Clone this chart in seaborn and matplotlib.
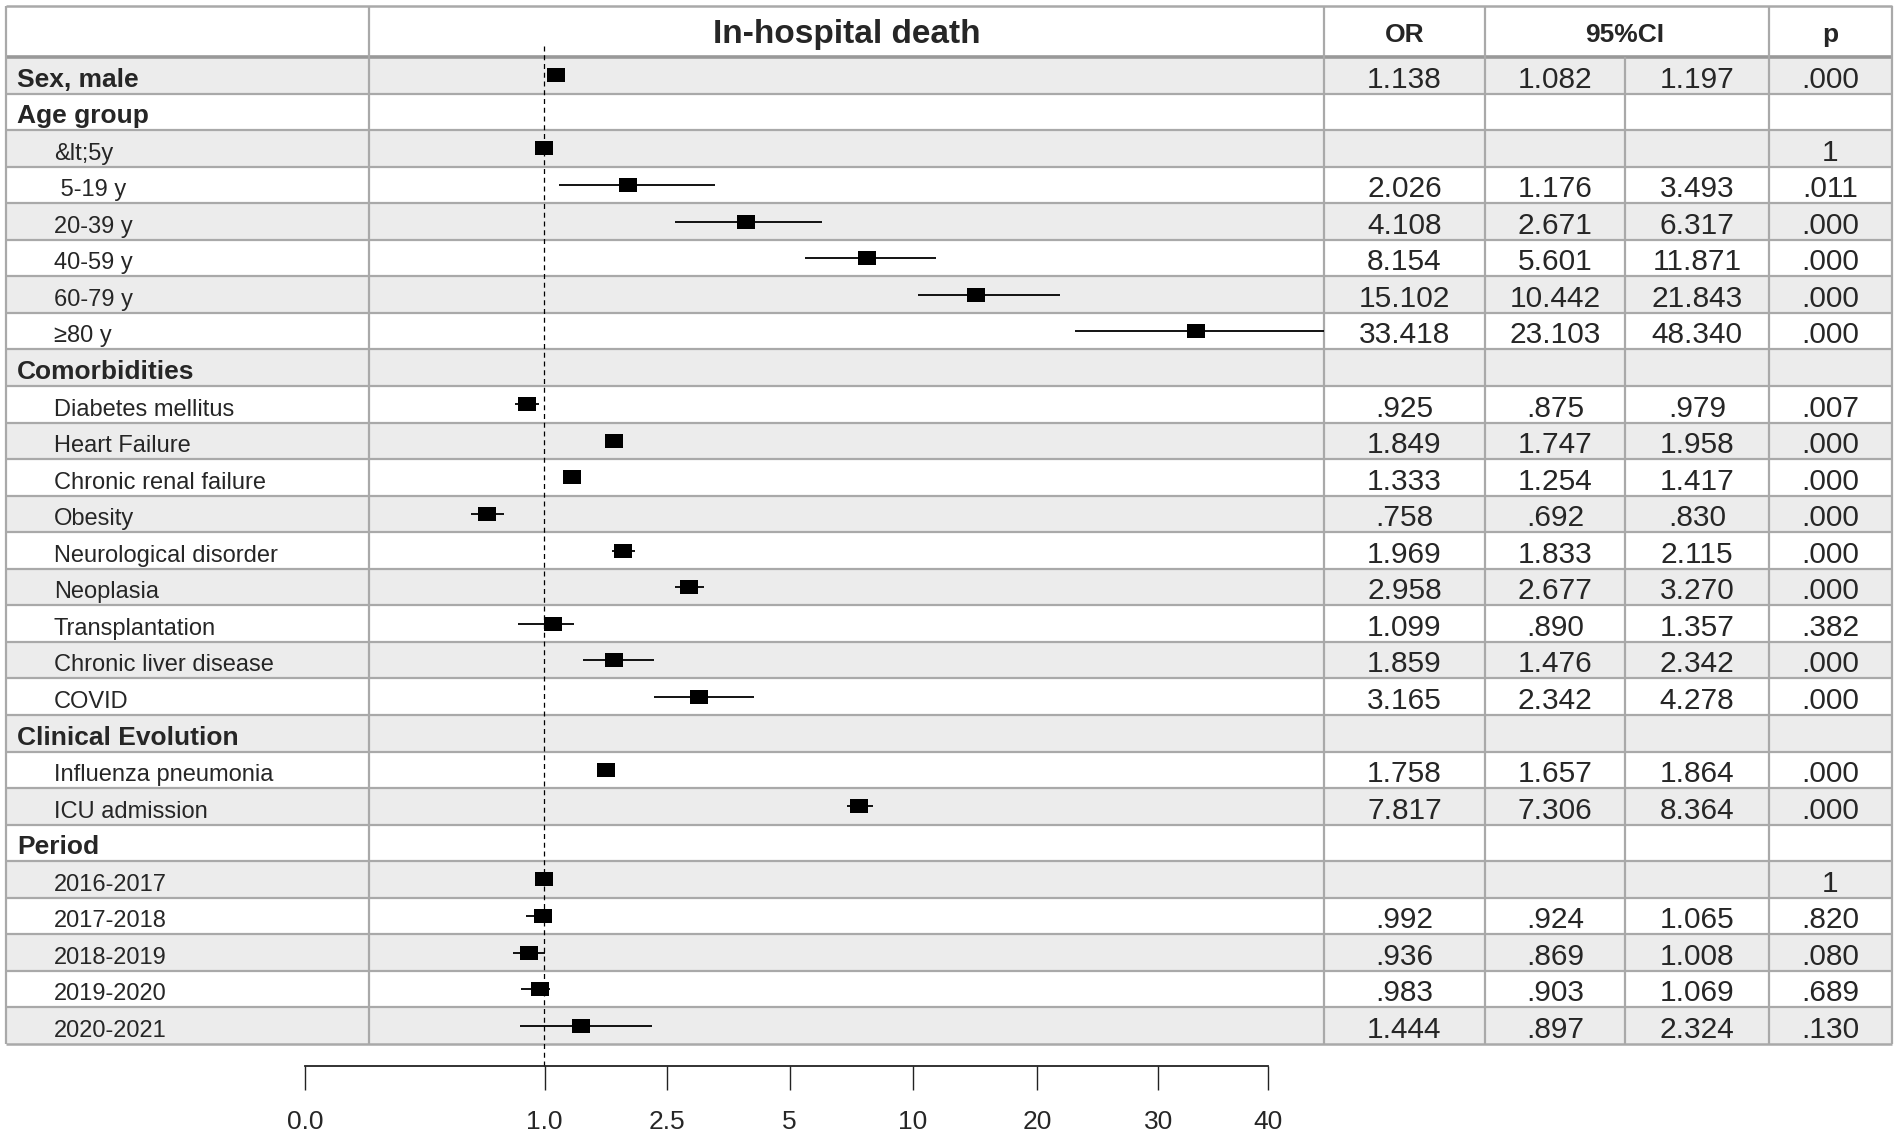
import numpy as np
import pandas as pd
import seaborn as sns
import matplotlib.pyplot as plt
from matplotlib.patches import Rectangle

sns.set_theme(style='white')
plt.rcParams['font.family'] = ['Liberation Sans', 'DejaVu Sans']

nan = np.nan
labels = ["Sex, male", "Age group", "&lt;5y", " 5-19 y", "20-39 y", "40-59 y", "60-79 y", "\u226580 y",
          "Comorbidities", "Diabetes mellitus", "Heart Failure", "Chronic renal failure", "Obesity",
          "Neurological disorder", "Neoplasia", "Transplantation", "Chronic liver disease", "COVID",
          "Clinical Evolution", "Influenza pneumonia", "ICU admission",
          "Period", "2016-2017", "2017-2018", "2018-2019", "2019-2020", "2020-2021"]
bold_rows = ["Sex, male", "Age group", "Comorbidities", "Clinical Evolution", "Period"]
or_val = [1.138, nan, 1.0, 2.026, 4.108, 8.154, 15.102, 33.418,
          nan, .925, 1.849, 1.333, .758, 1.969, 2.958, 1.099, 1.859, 3.165,
          nan, 1.758, 7.817,
          nan, 1.0, .992, .936, .983, 1.444]
ci_lo = [1.082, nan, nan, 1.176, 2.671, 5.601, 10.442, 23.103,
         nan, .875, 1.747, 1.254, .692, 1.833, 2.677, .890, 1.476, 2.342,
         nan, 1.657, 7.306,
         nan, nan, .924, .869, .903, .897]
ci_hi = [1.197, nan, nan, 3.493, 6.317, 11.871, 21.843, 48.340,
         nan, .979, 1.958, 1.417, .830, 2.115, 3.270, 1.357, 2.342, 4.278,
         nan, 1.864, 8.364,
         nan, nan, 1.065, 1.008, 1.069, 2.324]
p_txt = [".000", "", "1", ".011", ".000", ".000", ".000", ".000",
         "", ".007", ".000", ".000", ".000", ".000", ".000", ".382", ".000", ".000",
         "", ".000", ".000",
         "", "1", ".820", ".080", ".689", ".130"]
tick_vals = [0, 1, 2.5, 5, 10, 20, 30, 40]
tick_labels = ["0.0", "1.0", "2.5", "5", "10", "20", "30", "40"]
# where each tick sits on the (uneven) axis, in axis units
tick_units = [-1.96, 0, 1.0, 2.01, 3.02, 4.04, 5.03, 5.93]

AV = np.array(tick_vals, float)
AU = np.array(tick_units, float)


def _pw(v, xs, ys):
    v = np.asarray(v, float)
    lo = ys[0] + (v - xs[0]) * (ys[1] - ys[0]) / (xs[1] - xs[0])
    hi = ys[-1] + (v - xs[-1]) * (ys[-1] - ys[-2]) / (xs[-1] - xs[-2])
    return np.where(v < xs[0], lo, np.where(v > xs[-1], hi, np.interp(v, xs, ys)))


def fwd(v):
    return _pw(v, AV, AU)


def inv(u):
    return _pw(u, AU, AV)


def fmt(v):
    s = f"{v:.3f}"
    return s[1:] if s.startswith("0.") else s


W, H = 1899, 1139
U0_PX, PX_PER_U = 544.5, 122.0
TOP, HEAD_B, BOT = 6, 57, 1044
n = len(labels)
ROW_H = (BOT - HEAD_B) / n
col_x = [6, 369, 1324, 1485, 1625, 1769, 1892]
grid_c = '#a9a9a9'

fig = plt.figure(figsize=(W / 100, H / 100), dpi=100)

# table background / grid in pixel coordinates
tab = fig.add_axes([0, 0, 1, 1])
tab.set_xlim(0, W)
tab.set_ylim(H, 0)
tab.axis('off')
for k in range(n):
    if k % 2 == 0:
        tab.add_patch(Rectangle((col_x[0], HEAD_B + k * ROW_H), col_x[-1] - col_x[0], ROW_H,
                                facecolor='#ececec', edgecolor='none', zorder=0))
for k in range(1, n):
    tab.hlines(HEAD_B + k * ROW_H, col_x[0], col_x[-1], color=grid_c, lw=1.6, zorder=1)
tab.hlines([TOP, BOT], col_x[0], col_x[-1], color=grid_c, lw=1.8, zorder=1)
tab.hlines(HEAD_B, col_x[0], col_x[-1], color='#999999', lw=2.6, zorder=1)
for i, x in enumerate(col_x):
    y0 = HEAD_B if i == 4 else TOP
    tab.vlines(x, y0, BOT, color=grid_c, lw=1.6, zorder=1)

# header
tab.text((col_x[1] + col_x[2]) / 2, 43, "In-hospital death", ha='center', va='baseline',
         fontsize=24, fontweight='bold')
tab.text((col_x[2] + col_x[3]) / 2, 42, "OR", ha='center', va='baseline', fontsize=19, fontweight='bold')
tab.text(col_x[4], 42, "95%CI", ha='center', va='baseline', fontsize=19, fontweight='bold')
tab.text((col_x[5] + col_x[6]) / 2, 42, "p", ha='center', va='baseline', fontsize=19, fontweight='bold')

# row labels and numbers
centers = [(col_x[i] + col_x[i + 1]) / 2 for i in range(2, 6)]
for k, lab in enumerate(labels):
    base = HEAD_B + (k + 1) * ROW_H - 7
    if lab in bold_rows:
        tab.text(17, base, lab, ha='left', va='baseline', fontsize=19, fontweight='bold')
    else:
        tab.text(54, base, lab, ha='left', va='baseline', fontsize=17)
    if not np.isnan(ci_lo[k]):
        for cx, v in zip(centers[:3], (or_val[k], ci_lo[k], ci_hi[k])):
            tab.text(cx, base + 1, fmt(v), ha='center', va='baseline', fontsize=21.5)
    if p_txt[k]:
        tab.text(centers[3], base + 1, p_txt[k], ha='center', va='baseline', fontsize=21.5)

# forest panel
ax = fig.add_axes([col_x[1] / W, 1 - BOT / H, (col_x[2] - col_x[1]) / W, (BOT - HEAD_B) / H])
ax.patch.set_alpha(0)
df = pd.DataFrame({'row': np.arange(n), 'or': or_val, 'lo': ci_lo, 'hi': ci_hi})
ci = df.dropna(subset=['lo'])
ax.hlines(ci['row'], ci['lo'], ci['hi'], color='black', lw=1.3, zorder=2)
rect = [(-1, -0.78), (1, -0.78), (1, 0.78), (-1, 0.78), (-1, -0.78)]
sns.scatterplot(data=df.dropna(subset=['or']), x='or', y='row', marker=rect, s=168,
                color='black', linewidth=0, ax=ax, legend=False, zorder=3)
ax.set_xscale('function', functions=(fwd, inv))
ax.set_xlim(inv((col_x[1] - U0_PX) / PX_PER_U), inv((col_x[2] - U0_PX) / PX_PER_U))
ax.set_ylim(n - 0.5, -0.5)
span = BOT - HEAD_B
ax.axvline(1.0, ymin=-(1066 - BOT) / span, ymax=1 + (HEAD_B - 43) / span, color='black',
           lw=0.9, ls=(0, (4, 3)), clip_on=False, zorder=2)
ax.set_axis_off()

# bottom scale
x0 = U0_PX + PX_PER_U * tick_units[0]
x1 = U0_PX + PX_PER_U * tick_units[-1]
axx = fig.add_axes([x0 / W, 1 - 1066 / H, (x1 - x0) / W, 1 / H])
axx.patch.set_alpha(0)
axx.set_xscale('function', functions=(fwd, inv))
axx.set_xlim(0, 40)
axx.set_xticks(tick_vals)
axx.set_xticklabels(tick_labels, fontsize=19)
axx.set_yticks([])
for s in ['top', 'left', 'right']:
    axx.spines[s].set_visible(False)
axx.spines['bottom'].set_color('#222222')
axx.spines['bottom'].set_linewidth(1.3)
axx.tick_params(axis='x', direction='out', length=17, width=1, color='#222222',
                labelsize=19, pad=15, bottom=True)

fig.savefig('out.png', dpi=100)
